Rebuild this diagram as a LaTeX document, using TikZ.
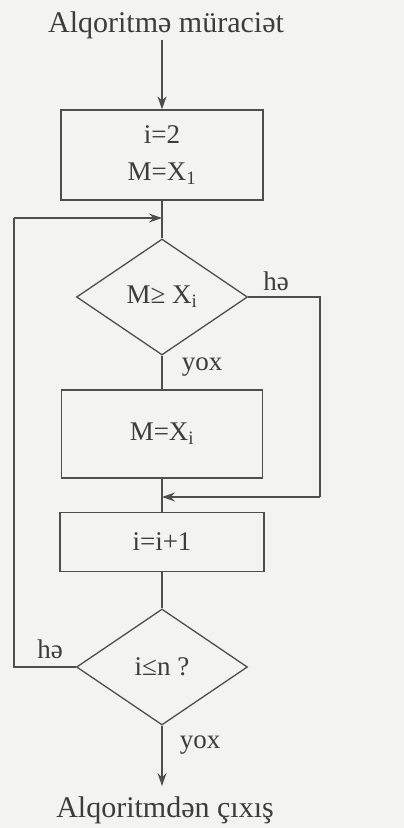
\documentclass[tikz,border=0pt]{standalone}
\usepackage{fontspec}
\setmainfont{Liberation Serif}
\usetikzlibrary{shapes.geometric,arrows.meta,calc}
\definecolor{inkc}{HTML}{3C3C3C}
\definecolor{linec}{HTML}{4E4E4E}
\definecolor{paper}{HTML}{F3F3F1}
\begin{document}
\begin{tikzpicture}[x=1pt,y=-1pt,
  lbl/.style={text=inkc,font=\fontsize{30}{34}\selectfont,inner sep=0pt},
  sml/.style={text=inkc,font=\fontsize{27}{31}\selectfont,inner sep=0pt},
  boxc/.style={draw=linec,line width=1.3pt,text=inkc,font=\fontsize{27}{30}\selectfont,inner sep=0pt,align=center},
  dia/.style={draw=linec,line width=1.3pt,text=inkc,font=\fontsize{27}{30}\selectfont,diamond,inner sep=0pt,minimum width=171pt,minimum height=116pt},
  ln/.style={draw=linec,line width=1.3pt},
  arr/.style={ln,-{Stealth[length=13pt,width=9pt]}}
]
\fill[paper] (0,0) rectangle (404,828);
\useasboundingbox (0,0) rectangle (404,828);

\node[lbl] (t1) at (166,25) {Alqoritmə müraciət};
\node[boxc,minimum width=202pt,minimum height=90pt] (b1) at (162,155) {i=2\\[7pt]M=X\textsubscript{1}};
\node[dia] (d1) at (162,297) {M≥ X\textsubscript{i}};
\node[boxc,minimum width=201pt,minimum height=88pt] (b2) at (162,434) {M=X\textsubscript{i}};
\node[boxc,minimum width=204pt,minimum height=59pt] (b3) at (162,542) {i=i+1};
\node[dia] (d2) at (162,667) {i≤n ?};
\node[lbl] (t2) at (165,810) {Alqoritmdən çıxış};

\coordinate (j1) at (162,218);
\coordinate (j2) at (162,497);
\coordinate (r1) at (320,297);
\coordinate (r2) at (320,497);
\coordinate (l1) at (14,667);
\coordinate (l2) at (14,218);
\coordinate (a0) at (162,40);
\coordinate (e1) at (162,786);

\draw[arr] (a0) -- (b1.north);
\draw[ln] (b1.south) -- (d1.north);
\draw[ln] (d1.south) -- (b2.north);
\draw[ln] (d1.east) -- (r1) -- (r2);
\draw[arr] (r2) -- (j2);
\draw[ln] (b2.south) -- (b3.north);
\draw[ln] (b3.south) -- (d2.north);
\draw[ln] (d2.west) -- (l1) -- (l2);
\draw[arr] (l2) -- (j1);
\draw[arr] (d2.south) -- (e1);

\node[sml] (h1) at (276,281) {hə};
\node[sml] (y1) at (202,367) {yox};
\node[sml] (h2) at (50,649) {hə};
\node[sml] (y2) at (200,745) {yox};
\end{tikzpicture}
\end{document}
